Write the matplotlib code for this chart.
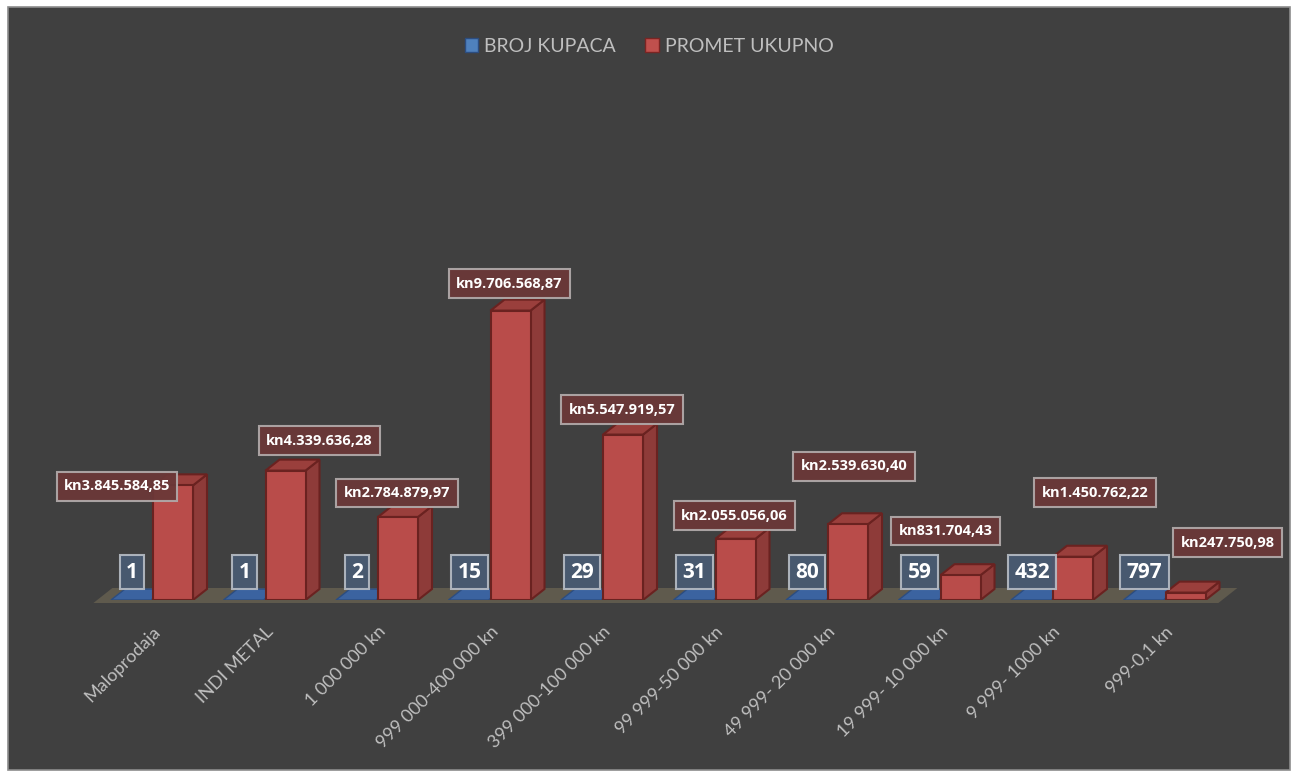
import numpy as np
import matplotlib
matplotlib.use('Agg')
import matplotlib.pyplot as plt
from matplotlib.patches import Polygon, Rectangle, Patch
from matplotlib.transforms import ScaledTranslation

categories = ['Maloprodaja', 'INDI METAL', '1 000 000 kn', '999 000-400 000 kn',
              '399 000-100 000 kn', '99 999-50 000 kn', '49 999- 20 000 kn',
              '19 999- 10 000 kn', '9 999- 1000 kn', '999-0,1 kn']
broj_kupaca = [1, 1, 2, 15, 29, 31, 80, 59, 432, 797]
promet = [3845584.85, 4339636.28, 2784879.97, 9706568.87, 5547919.57,
          2055056.06, 2539630.40, 831704.43, 1450762.22, 247750.98]
promet_labels = ['kn3.845.584,85', 'kn4.339.636,28', 'kn2.784.879,97', 'kn9.706.568,87',
                 'kn5.547.919,57', 'kn2.055.056,06', 'kn2.539.630,40', 'kn831.704,43',
                 'kn1.450.762,22', 'kn247.750,98']

# label offsets (pixels) relative to front-left top corner of red bar
red_off = [(-36, -1), (54, 30), (19, 24), (19, 27), (19, 25),
           (19, 23), (26, 58), (5, 44), (42, 64), (62, 50)]

plt.rcParams['font.family'] = ['Lato', 'DejaVu Sans']

W, H = 1298, 777
fig = plt.figure(figsize=(W / 100, H / 100), dpi=100)
fig.patch.set_facecolor('white')
fig.patches.append(Rectangle((8 / W, 7 / H), 1282 / W, 763 / H, transform=fig.transFigure,
                             facecolor='#404040', edgecolor='#8c8c8c', lw=1.2, zorder=-5))

ymax = 16.1e6
ax = fig.add_axes([85.5 / W, 177 / H, 1147.5 / W, 480 / H])
ax.set_facecolor('none')
ax.set_xlim(-0.6, 9.6)
ax.set_ylim(0, ymax)
for s in ax.spines.values():
    s.set_visible(False)
ax.set_yticks([])

upx = ymax / 480          # value units per pixel
xpx = 1 / 112.5           # category units per pixel
bw = 40 * xpx
dx, dy = 14 * xpx, 11 * upx

n = len(categories)
x = np.arange(n)

# floor
fdx, fdy = 19 * xpx, 15 * upx
ax.add_patch(Polygon([(-0.53, -3 * upx), (9.47, -3 * upx), (9.47 + fdx, -3 * upx + fdy),
                      (-0.53 + fdx, -3 * upx + fdy)], closed=True,
                     facecolor='#5f5a4d', edgecolor='none', zorder=1, clip_on=False))

for i in range(n):
    # blue (flat)
    xb = x[i] - bw - 2 * xpx
    ax.add_patch(Polygon([(xb, 0), (xb + bw, 0), (xb + bw + dx, dy), (xb + dx, dy)],
                         closed=True, facecolor='#3b63a0', edgecolor='#2c4d80', lw=1, zorder=2))
    # red 3D
    h = promet[i]
    x0 = x[i]
    ax.add_patch(Polygon([(x0 + bw, 0), (x0 + bw + dx, dy), (x0 + bw + dx, h + dy), (x0 + bw, h)],
                         closed=True, facecolor='#8e3b39', edgecolor='#6a2220', lw=1.5, zorder=3))
    ax.add_patch(Polygon([(x0, h), (x0 + bw, h), (x0 + bw + dx, h + dy), (x0 + dx, h + dy)],
                         closed=True, facecolor='#9a3f3c', edgecolor='#6a2220', lw=1.5, zorder=3))
    ax.bar(x0, h, width=bw, align='edge', color='#b94c4a', edgecolor='#6a2220', lw=1.5, zorder=4)

    ax.annotate(promet_labels[i], xy=(x0, h), xytext=red_off[i], textcoords='offset pixels',
                ha='center', va='center', color='white', fontsize=10.5, fontweight='bold',
                family='Open Sans', zorder=6, annotation_clip=False,
                bbox=dict(boxstyle='square,pad=0.5', facecolor='#6b3838', edgecolor='#b0a8a8',
                          lw=1.5, alpha=0.95))
    ax.annotate(str(broj_kupaca[i]), xy=(x0, 0), xytext=(-21, 28), textcoords='offset pixels',
                ha='center', va='center', color='white', fontsize=15, fontweight='bold',
                family='Open Sans', zorder=6, annotation_clip=False,
                bbox=dict(boxstyle='square,pad=0.3', facecolor='#4a5c75', edgecolor='#b8bec6',
                          lw=1.5, alpha=0.9))

ax.set_xticks(x)
ax.set_xticklabels(categories, rotation=45, ha='right', va='center', rotation_mode='anchor',
                   color='#bfbfbf', fontsize=13)
ax.tick_params(axis='x', length=0, pad=21)
for lab in ax.get_xticklabels():
    lab.set_transform(lab.get_transform() + ScaledTranslation(5 / 100, 0, fig.dpi_scale_trans))

handles = [Patch(facecolor='#4f81bd', edgecolor='#2c4d80', label='BROJ KUPACA'),
           Patch(facecolor='#c0504d', edgecolor='#7a2523', label='PROMET UKUPNO')]
leg = fig.legend(handles=handles, loc='center', bbox_to_anchor=(649 / W, 1 - 46 / H), ncol=2,
                 frameon=False, fontsize=14, handlelength=0.7, handleheight=0.7,
                 handletextpad=0.3, columnspacing=1.5)
for t in leg.get_texts():
    t.set_color('#bfbfbf')

fig.savefig('out.png', dpi=100, facecolor=fig.get_facecolor())
